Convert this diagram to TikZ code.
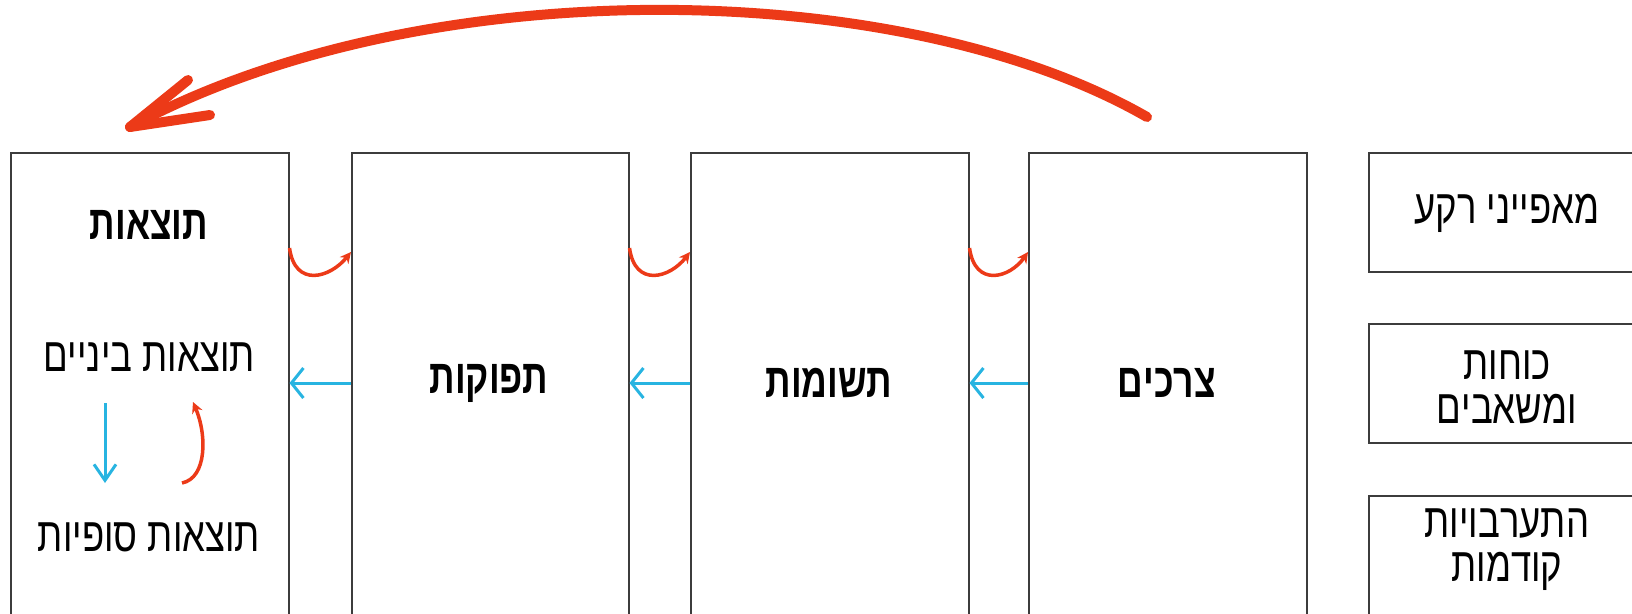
\documentclass[tikz,border=0pt]{standalone}
\usepackage{fontspec}
\setmainfont{Liberation Sans}
\newfontfamily\hebn[FakeStretch=0.76]{Liberation Sans}
\newfontfamily\hebb[FakeStretch=0.74]{Liberation Sans Bold}
\TeXXeTstate=1
\usetikzlibrary{arrows.meta}
\definecolor{myred}{RGB}{236,58,24}
\definecolor{myblue}{RGB}{40,180,225}
\definecolor{boxgray}{RGB}{60,60,60}
\newcommand{\heb}[1]{\beginR #1\endR}
\begin{document}
\begin{tikzpicture}[x=1pt,y=-1pt,
  box/.style={draw=boxgray, line width=1.5pt, rectangle, anchor=north west, inner sep=0pt},
  txt/.style={font=\hebn\fontsize{48}{44}\selectfont, align=center, inner sep=0pt},
  btxt/.style={font=\hebb\fontsize{48}{44}\selectfont, inner sep=0pt},
  bluearrow/.style={draw=myblue, line width=3pt, -{Straight Barb[length=12pt,width=30pt,line width=3pt]}},
  redsmall/.style={draw=myred, line width=3.5pt, -{Stealth[length=11pt,width=11pt]}},
  redbig/.style={draw=myred, line width=10pt, line cap=round},
]
\useasboundingbox (0,0) rectangle (1632,613);
\begin{scope}
\clip (0,0) rectangle (1632,613);
\node[box, minimum width=278pt, minimum height=480pt] (out) at (10,152) {};
\node[box, minimum width=277pt, minimum height=480pt] (outp) at (351,152) {};
\node[box, minimum width=278pt, minimum height=480pt] (inp) at (690,152) {};
\node[box, minimum width=278pt, minimum height=480pt] (need) at (1028,152) {};
\node[box, minimum width=280pt, minimum height=119pt] (bg) at (1368,152) {};
\node[box, minimum width=280pt, minimum height=119pt] (force) at (1368,323) {};
\node[box, minimum width=280pt, minimum height=140pt] (prev) at (1368,495) {};
\end{scope}
% texts
\node[btxt] (tout) at (149,225) {\heb{תוצאות}};
\node[txt] (tmid) at (149,357) {\heb{תוצאות ביניים}};
\node[txt] (tfin) at (149,537) {\heb{תוצאות סופיות}};
\node[btxt] (toutp) at (489,383) {\heb{תפוקות}};
\node[btxt] (tinp) at (829,383) {\heb{תשומות}};
\node[btxt] (tneed) at (1167,383) {\heb{צרכים}};
\node[txt] (tbg) at (1507,213) {\heb{מאפייני רקע}};
\node[txt] (tforce) at (1507,387) {\heb{כוחות}\\\heb{ומשאבים}};
\node[txt] (tprev) at (1507,550) {\heb{התערבויות}\\\heb{קודמות}};
% blue arrows
\draw[bluearrow] (outp.west |- 0,383) -- (out.east |- 0,383);
\draw[bluearrow] (inp.west |- 0,383) -- (outp.east |- 0,383);
\draw[bluearrow] (need.west |- 0,383) -- (inp.east |- 0,383);
% small red arrows
\draw[redsmall] (out.east |- 0,248) .. controls (295,288) and (330,278) .. (outp.west |- 0,252);
\draw[redsmall] (outp.east |- 0,248) .. controls (635,288) and (670,278) .. (inp.west |- 0,252);
\draw[redsmall] (inp.east |- 0,248) .. controls (975,288) and (1010,278) .. (need.west |- 0,252);
% inner arrows
\coordinate (bd1) at (105,403);
\coordinate (bd2) at (105,483);
\draw[draw=myblue, line width=3pt, -{Straight Barb[length=16pt,width=22pt,line width=3pt]}] (bd1) -- (bd2);
\coordinate (rs) at (182,483);
\coordinate (re) at (193,402);
\draw[redsmall] (rs) .. controls (207,478) and (207,435) .. (re);
% big red arrow
\coordinate (bigs) at (1147,117);
\coordinate (bige) at (130,127);
\draw[redbig] (bigs) .. controls (900,-25) and (420,-30) .. (bige);
\draw[redbig] (bige) -- (188,80);
\draw[redbig] (bige) -- (210,115);
\end{tikzpicture}
\end{document}
